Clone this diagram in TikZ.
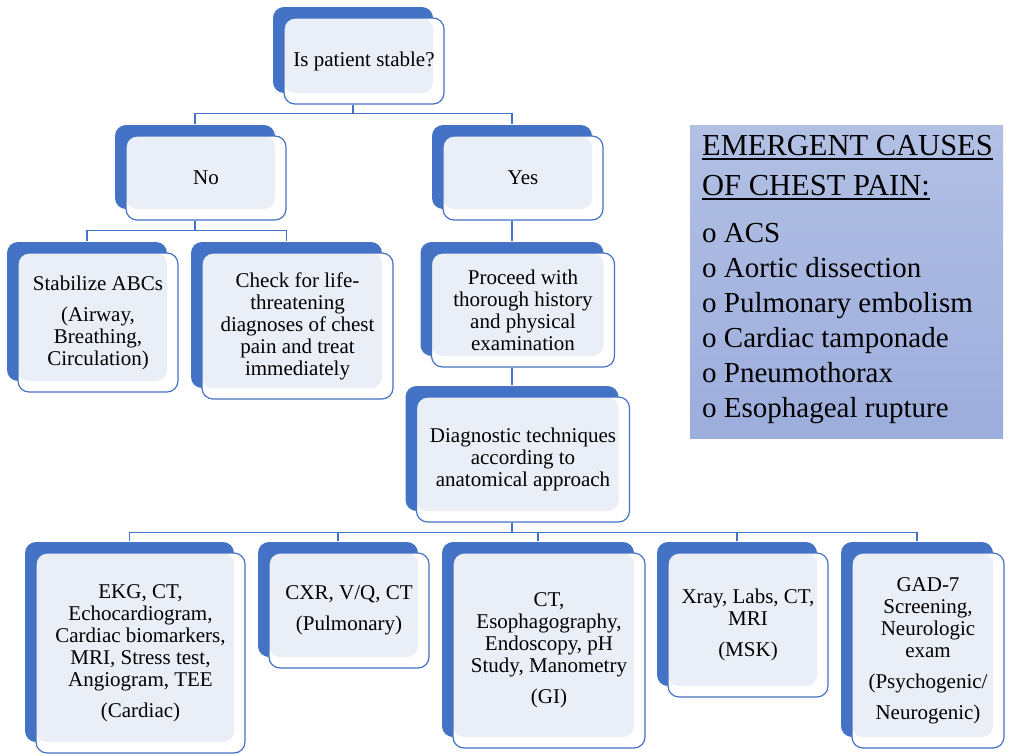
\documentclass[tikz,border=0pt]{standalone}
\usepackage{fontspec}
\setmainfont{Liberation Serif}
\usetikzlibrary{shadows}
\definecolor{smartdark}{RGB}{68,114,196}
\definecolor{smartlight}{RGB}{233,238,247}
\definecolor{legendtop}{RGB}{178,192,228}
\definecolor{legendbot}{RGB}{157,173,220}
\begin{document}
\begin{tikzpicture}[x=1pt, y=-1pt,
    smartbox/.style={draw=smartdark, line width=1.2pt, fill=white, rounded corners=11pt,
      align=center, inner sep=0pt, font=\fontsize{21}{22}\selectfont,
      general shadow={shadow xshift=-11pt, shadow yshift=11pt, fill=smartdark},
      path picture={\fill[smartlight, rounded corners=11pt] (path picture bounding box.north west)
        rectangle ([xshift=-11pt,yshift=11pt]path picture bounding box.south east);}},
    link/.style={draw=smartdark, line width=1.2pt},
    causeline/.style={anchor=base west, inner sep=0pt, font=\fontsize{29}{34}\selectfont}]
  \useasboundingbox (0,0) rectangle (1012,755);

  % decision tree
  \node[smartbox, minimum width=160pt, minimum height=86pt] (stable) at (364,61) {Is patient stable?};
  \node[smartbox, minimum width=160pt, minimum height=84pt] (no) at (206,178) {No};
  \node[smartbox, minimum width=160pt, minimum height=84pt] (yes) at (523,178) {Yes};

  \node[smartbox, minimum width=160pt, minimum height=139pt] (stabilize) at (98,322.5)
    {Stabilize ABCs\\[9pt](Airway,\\Breathing,\\Circulation)};
  \node[smartbox, minimum width=191pt, minimum height=146pt] (check) at (297.5,326)
    {Check for life-\\threatening\\diagnoses of chest\\pain and treat\\immediately};
  \node[smartbox, minimum width=183pt, minimum height=114pt] (proceed) at (523,310)
    {Proceed with\\thorough history\\and physical\\examination};
  \node[smartbox, minimum width=213pt, minimum height=125pt] (diagnostic) at (523,459.5)
    {Diagnostic techniques\\according to\\anatomical approach};

  % anatomical approach
  \node[smartbox, minimum width=209pt, minimum height=200pt] (cardiac) at (140.5,653)
    {EKG, CT,\\Echocardiogram,\\Cardiac biomarkers,\\MRI, Stress test,\\Angiogram, TEE\\[9pt](Cardiac)};
  \node[smartbox, minimum width=160pt, minimum height=115pt] (pulmonary) at (349,610.5)
    {CXR, V/Q, CT\\[9pt](Pulmonary)};
  \node[smartbox, minimum width=192pt, minimum height=195pt] (gi) at (549,650.5)
    {CT,\\Esophagography,\\Endoscopy, pH\\Study, Manometry\\[9pt](GI)};
  \node[smartbox, minimum width=160pt, minimum height=144pt] (msk) at (748,625)
    {Xray, Labs, CT,\\MRI\\[9pt](MSK)};
  \node[smartbox, minimum width=152pt, minimum height=195pt] (psych) at (928,650.5)
    {GAD-7\\Screening,\\Neurologic\\exam\\[9pt](Psychogenic/\\[9pt]Neurogenic)};

  \draw[link] ([xshift=-11pt]stable.south) -- ++(0,9) -| ([xshift=-11pt,yshift=11pt]no.north);
  \draw[link] ([xshift=-11pt]stable.south) -- ++(0,9) -| ([xshift=-11pt,yshift=11pt]yes.north);
  \draw[link] ([xshift=-11pt]no.south) -- ++(0,10) -| ([xshift=-11pt,yshift=11pt]stabilize.north);
  \draw[link] ([xshift=-11pt]no.south) -- ++(0,10) -| ([xshift=-11pt,yshift=11pt]check.north);
  \draw[link] ([xshift=-11pt]yes.south) -- ([xshift=-11pt,yshift=11pt]proceed.north);
  \draw[link] ([xshift=-11pt]proceed.south) -- ([xshift=-11pt,yshift=11pt]diagnostic.north);
  \draw[link] ([xshift=-11pt]diagnostic.south) -- ++(0,10) -| ([xshift=-11pt,yshift=11pt]cardiac.north);
  \draw[link] ([xshift=-11pt]diagnostic.south) -- ++(0,10) -| ([xshift=-11pt,yshift=11pt]pulmonary.north);
  \draw[link] ([xshift=-11pt]diagnostic.south) -- ++(0,10) -| ([xshift=-11pt,yshift=11pt]gi.north);
  \draw[link] ([xshift=-11pt]diagnostic.south) -- ++(0,10) -| ([xshift=-11pt,yshift=11pt]msk.north);
  \draw[link] ([xshift=-11pt]diagnostic.south) -- ++(0,10) -| ([xshift=-11pt,yshift=11pt]psych.north);

  % emergent causes
  \node[top color=legendtop, bottom color=legendbot, minimum width=313pt, minimum height=313pt,
    inner sep=0pt] (causes) at (846.5,281.5) {};
  \node[causeline, font=\fontsize{30.5}{36}\selectfont] (title1) at (702,155) {EMERGENT CAUSES};
  \node[causeline, font=\fontsize{30.5}{36}\selectfont] (title2) at (702,195) {OF CHEST PAIN:};
  \draw[line width=1.8pt] ([yshift=-4pt]title1.base west) -- ([yshift=-4pt]title1.base east);
  \draw[line width=1.8pt] ([yshift=-4pt]title2.base west) -- ([yshift=-4pt]title2.base east);
  \node[causeline] (acs) at (702,242) {o ACS};
  \node[causeline] (aortic) at (702,277) {o Aortic dissection};
  \node[causeline] (pe) at (702,312) {o Pulmonary embolism};
  \node[causeline] (tamponade) at (702,347) {o Cardiac tamponade};
  \node[causeline] (ptx) at (702,382) {o Pneumothorax};
  \node[causeline] (rupture) at (702,417) {o Esophageal rupture};
\end{tikzpicture}
\end{document}
